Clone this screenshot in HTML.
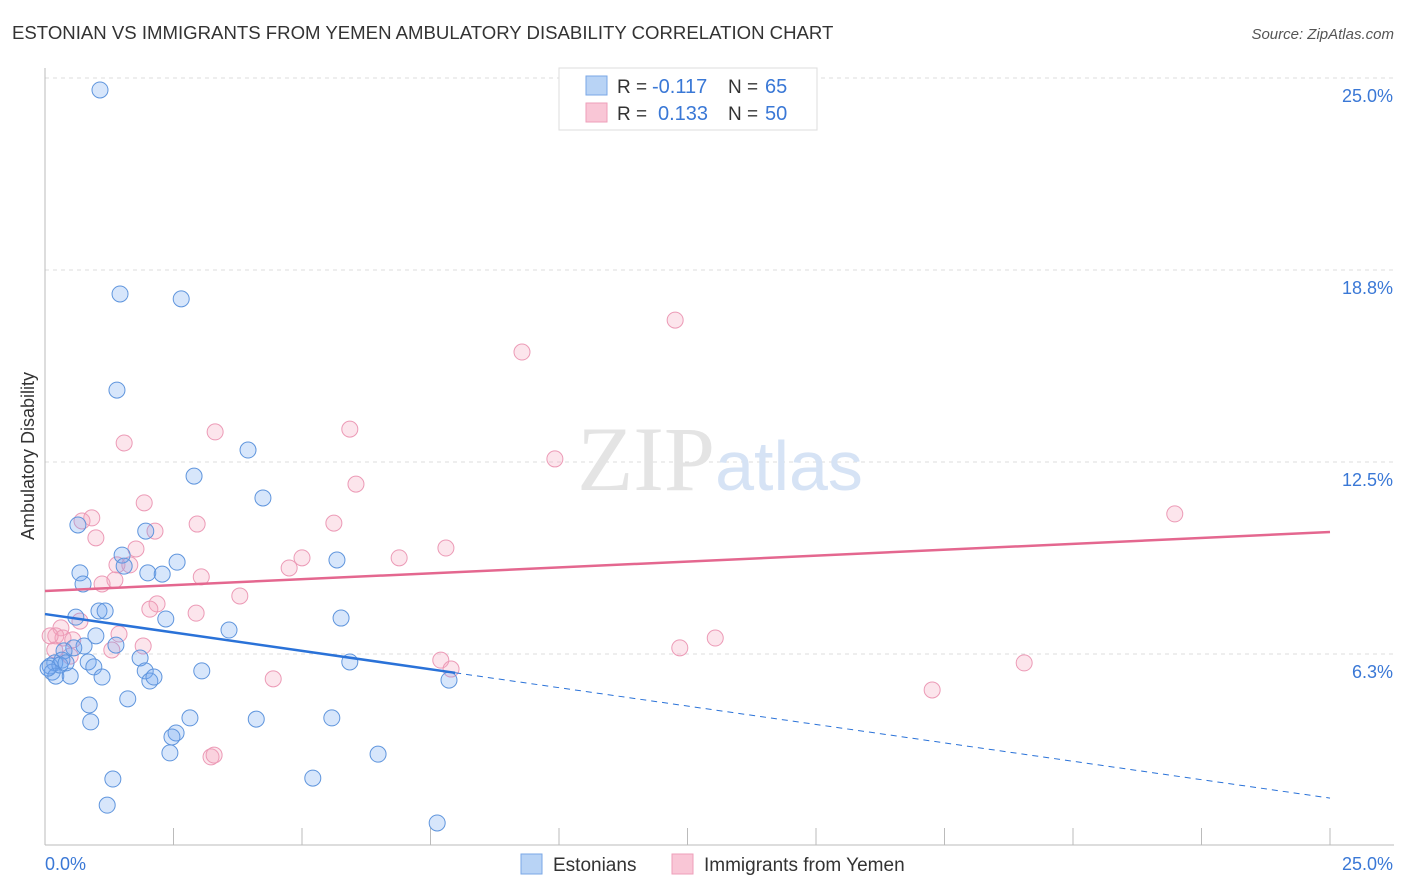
<!DOCTYPE html>
<html><head><meta charset="utf-8"><style>
body{margin:0;background:#fff;font-family:"Liberation Sans",sans-serif;}
svg{display:block}
</style></head><body>
<svg id="chart" width="1406" height="892" xmlns="http://www.w3.org/2000/svg">
<text x="12" y="39" font-size="18.6" fill="#333">ESTONIAN VS IMMIGRANTS FROM YEMEN AMBULATORY DISABILITY CORRELATION CHART</text>
<text x="1394" y="39" font-size="15" fill="#555" font-style="italic" text-anchor="end">Source: ZipAtlas.com</text>
<text x="34" y="456" font-size="18" fill="#333" text-anchor="middle" transform="rotate(-90 34 456)">Ambulatory Disability</text>
<g id="grid"></g>
<g id="axes"></g>
<text x="720" y="490" font-size="92" fill="#e4e4e4" text-anchor="middle" font-family="Liberation Serif,serif">ZIP<tspan fill="#d6e3f5" font-family="Liberation Sans,sans-serif" font-size="70">atlas</tspan></text>
<g id="pts"></g>
<g id="trends"></g>
<g>
<rect x="559" y="68" width="258" height="62" fill="#fff" stroke="#ddd"/>
<rect x="586" y="76" width="21" height="19" fill="#b8d3f5" stroke="#7aa7e6"/>
<rect x="586" y="103" width="21" height="19" fill="#f9c6d6" stroke="#ee9fba"/>
<text x="617" y="93" font-size="19" fill="#333">R =</text>
<text x="652" y="93" font-size="20" fill="#3a78d6">-0.117</text>
<text x="728" y="93" font-size="19" fill="#333">N =</text>
<text x="765" y="93" font-size="20" fill="#3a78d6">65</text>
<text x="617" y="120" font-size="19" fill="#333">R =</text>
<text x="658" y="120" font-size="20" fill="#3a78d6">0.133</text>
<text x="728" y="120" font-size="19" fill="#333">N =</text>
<text x="765" y="120" font-size="20" fill="#3a78d6">50</text>
</g>
<g>
<rect x="521" y="854" width="21" height="20" fill="#b8d3f5" stroke="#7aa7e6"/>
<text x="553" y="871" font-size="19" fill="#333">Estonians</text>
<rect x="672" y="854" width="21" height="20" fill="#f9c6d6" stroke="#ee9fba"/>
<text x="704" y="871" font-size="19" fill="#333">Immigrants from Yemen</text>
</g>
</svg>
<script>
const yTicks=[6.25,12.5,18.75,25];
const yTickLabels=["6.3%","12.5%","18.8%","25.0%"];
const xTickLabels=["0.0%","25.0%"];
const blueX=[1.07,1.46,2.65,1.40,3.95,2.90,4.24,0.64,1.96,1.50,1.54,2.57,5.68,0.68,2.00,2.28,0.74,1.05,1.17,0.60,2.35,5.76,3.58,0.99,1.38,0.76,0.56,0.37,0.33,0.19,0.10,0.14,0.21,0.49,0.84,0.95,1.85,1.95,2.04,2.12,3.05,1.11,5.93,7.86,1.61,0.86,0.89,2.82,4.11,5.58,2.55,2.47,2.43,6.48,1.32,5.21,1.21,7.63,0.29,0.41,0.06];
const blueY=[24.61,17.97,17.81,14.84,12.89,12.04,11.33,10.45,10.25,9.47,9.11,9.24,9.31,8.89,8.89,8.85,8.53,7.65,7.65,7.45,7.39,7.42,7.03,6.84,6.54,6.51,6.45,6.35,6.05,5.96,5.86,5.66,5.53,5.53,5.99,5.83,6.12,5.70,5.37,5.50,5.70,5.50,5.99,5.40,4.79,4.59,4.04,4.17,4.13,4.17,3.68,3.55,3.03,2.99,2.18,2.21,1.33,0.75,5.89,5.96,5.79];
const pinkX=[12.26,9.28,1.54,3.31,5.93,9.92,6.05,1.93,0.91,0.72,0.99,2.14,2.96,5.62,7.80,1.77,5.00,6.89,4.75,1.40,1.65,3.04,1.36,1.11,3.79,2.18,2.04,2.94,0.68,0.31,0.21,1.44,0.35,0.54,1.91,1.30,21.98,13.04,12.35,19.05,7.70,7.90,4.44,17.26,3.23,3.29,0.19,0.49,0.10];
const pinkY=[17.12,16.08,13.12,13.48,13.57,12.60,11.78,11.17,10.68,10.58,10.03,10.25,10.48,10.51,9.70,9.67,9.38,9.38,9.05,9.15,9.15,8.76,8.66,8.53,8.14,7.88,7.71,7.58,7.32,7.10,6.84,6.90,6.77,6.71,6.51,6.38,10.81,6.77,6.45,5.96,6.05,5.76,5.44,5.08,2.90,2.96,6.38,6.18,6.84];
const blueTrend=[7.55,1.56];
const blueSolidEnd=7.98;
const pinkTrend=[8.30,10.22];
const NS="http://www.w3.org/2000/svg";
const X=v=>45+v/25*1285;
const Y=v=>846-v/6.25*192;
function mk(tag,parent,attrs){const e=document.createElementNS(NS,tag);for(const k in attrs)e.setAttribute(k,attrs[k]);parent.appendChild(e);return e;}
const grid=document.getElementById('grid');
yTicks.forEach((t,i)=>{
 const l=mk('line',grid,{x1:45,x2:1394,y1:Y(t),y2:Y(t),stroke:'#ddd','stroke-dasharray':'4,4'});
 
 
 const tx=mk('text',grid,{x:1393,y:Y(t)+24,'font-size':18,fill:'#3a78d6','text-anchor':'end'});
 tx.textContent=yTickLabels[i];
 
 
});
const axes=document.getElementById('axes');
mk('line',axes,{x1:45,x2:45,y1:68,y2:845,stroke:'#bbb'});
mk('line',axes,{x1:45,x2:1394,y1:845,y2:845,stroke:'#bbb'});
for(let i=1;i<=10;i++){const t=mk('line',axes,{x1:X(i*2.5),x2:X(i*2.5),y1:828,y2:845,stroke:'#bbb'});
 
 }
const xl0=mk('text',axes,{x:45,y:870,'font-size':18,fill:'#3a78d6'});xl0.textContent=xTickLabels[0];


const xl1=mk('text',axes,{x:1393,y:870,'font-size':18,fill:'#3a78d6','text-anchor':'end'});xl1.textContent=xTickLabels[1];


const pts=document.getElementById('pts');
pinkX.forEach((v,i)=>{const c=mk('circle',pts,{cx:X(v),cy:Y(pinkY[i]),r:8,fill:'rgba(244,160,188,0.28)',stroke:'#ec9ab6','stroke-width':1});
 
 });
blueX.forEach((v,i)=>{const c=mk('circle',pts,{cx:X(v),cy:Y(blueY[i]),r:8,fill:'rgba(110,165,240,0.28)',stroke:'#5f95dd','stroke-width':1});
 
 });
const tr=document.getElementById('trends');
const by=x=>blueTrend[0]+(blueTrend[1]-blueTrend[0])*x/25;
const l1=mk('line',tr,{x1:X(0),y1:Y(by(0)),x2:X(blueSolidEnd),y2:Y(by(blueSolidEnd)),stroke:'#2a72d8','stroke-width':2.5});


const l2=mk('line',tr,{x1:X(blueSolidEnd),y1:Y(by(blueSolidEnd)),x2:X(25),y2:Y(by(25)),stroke:'#2a72d8','stroke-width':1,'stroke-dasharray':'6,5'});


const l3=mk('line',tr,{x1:X(0),y1:Y(pinkTrend[0]),x2:X(25),y2:Y(pinkTrend[1]),stroke:'#e4678f','stroke-width':2.5});


</script>
</body></html>
